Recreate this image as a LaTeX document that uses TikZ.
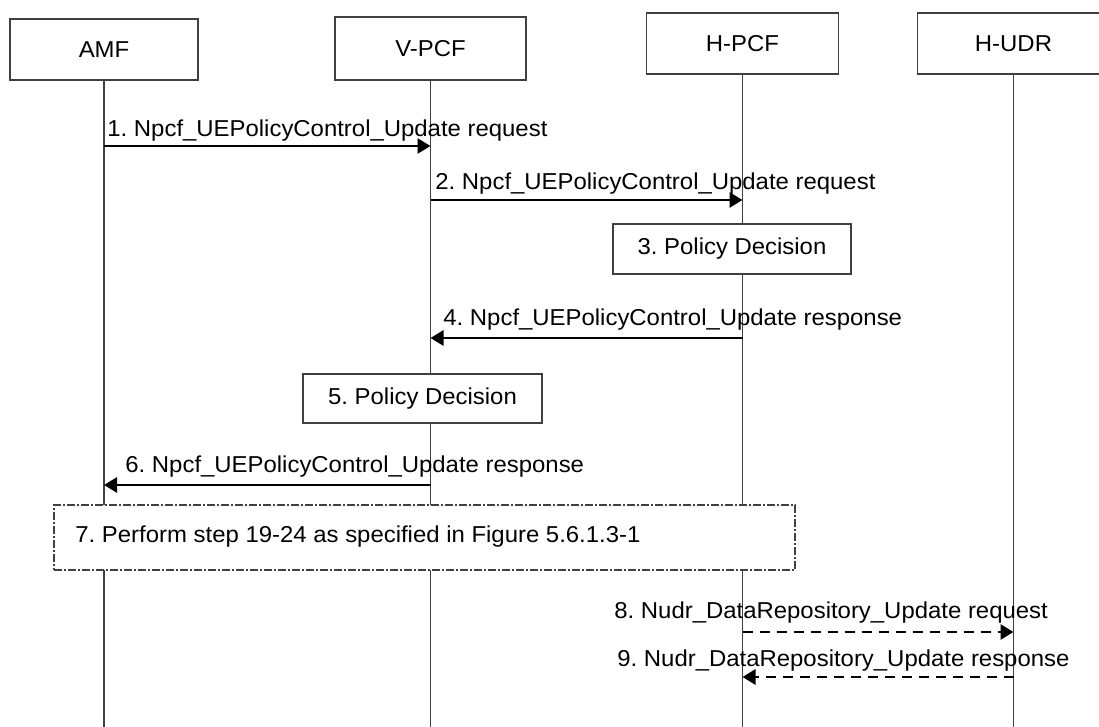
\documentclass[tikz,border=0pt]{standalone}
\usepackage{fontspec}
\setmainfont{Liberation Sans}[FakeStretch=1.04]
\usepackage{tikz}
\usetikzlibrary{positioning,calc}
\usetikzlibrary{arrows.meta}
\frenchspacing
\tikzset{
  ent/.style={draw=black!75,line width=0.6pt,fill=white,minimum height=30.5pt,inner sep=0pt},
  life/.style={draw=black!75,line width=0.6pt},
  call/.style={draw=black,line width=1.4pt,-{Triangle[length=6.5pt,width=7.5pt]}},
  dcall/.style={call,dash pattern=on 5pt off 3.5pt},
  act/.style={draw=black!75,line width=0.6pt,fill=white,inner sep=0pt},
  ref/.style={draw=black!75,line width=0.6pt,fill=white,
    dash pattern=on 4pt off 1pt on 1pt off 1pt},
  lbl/.style={anchor=base west,inner sep=0pt},
}

\begin{document}
\begin{tikzpicture}[x=0.5pt,y=-0.5pt,font=\fontsize{11.5pt}{13.5pt}\selectfont]
\useasboundingbox (0,0) rectangle (1099,727);
\clip (0,0) rectangle (1099,727);
\coordinate (bottom) at (0,727);
% entities
\node[ent,minimum width=94pt] (amf) at (104,49.5) {AMF};
\node[ent,minimum width=95.5pt,minimum height=31.5pt] (vpcf) at (430.5,48.5) {V-PCF};
\node[ent,minimum width=96pt] (hpcf) at (742.5,43.5) {H-PCF};
\node[ent,minimum width=96pt] (hudr) at (1013.5,43.5) {H-UDR};
% lifelines
\draw[life] (amf.south) -- (amf.south |- bottom);
\draw[life] (vpcf.south) -- (vpcf.south |- bottom);
\draw[life] (hpcf.south) -- (hpcf.south |- bottom);
\draw[life] (hudr.south) -- (hudr.south |- bottom);
% step 1
\coordinate (s1) at (amf |- 0,146);
\coordinate (e1) at (vpcf |- 0,146);
\draw[call] (s1) -- (e1);
\node[lbl] (l1) at (107,137) {1. Npcf\_UEPolicyControl\_Update request};
% step 2
\coordinate (s2) at (vpcf |- 0,200);
\coordinate (e2) at (hpcf |- 0,200);
\draw[call] (s2) -- (e2);
\node[lbl] (l2) at (435,190) {2. Npcf\_UEPolicyControl\_Update request};
% step 3
\node[act,minimum width=119pt,minimum height=25pt] (pd3) at (732,249) {3. Policy Decision};
% step 4
\coordinate (s4) at (hpcf |- 0,338);
\coordinate (e4) at (vpcf |- 0,338);
\draw[call] (s4) -- (e4);
\node[lbl] (l4) at (443,326) {4. Npcf\_UEPolicyControl\_Update response};
% step 5
\node[act,minimum width=119.5pt,minimum height=24.5pt] (pd5) at (422.5,398.5) {5. Policy Decision};
% step 6
\coordinate (s6) at (vpcf |- 0,485);
\coordinate (e6) at (amf |- 0,485);
\draw[call] (s6) -- (e6);
\node[lbl] (l6) at (125,473) {6. Npcf\_UEPolicyControl\_Update response};
% step 7
\node[ref,minimum width=370.5pt,minimum height=32.5pt] (ref7) at (424.5,537.5) {};
\node[lbl] (l7) at (75,542) {7. Perform step 19-24 as specified in Figure 5.6.1.3-1};
% steps 8 and 9
\coordinate (s8) at (hpcf |- 0,632);
\coordinate (e8) at (hudr |- 0,632);
\draw[dcall] (s8) -- (e8);
\node[lbl] (l8) at (614,618) {8. Nudr\_DataRepository\_Update request};
\coordinate (s9) at (hudr |- 0,677);
\coordinate (e9) at (hpcf |- 0,677);
\draw[dcall] (s9) -- (e9);
\node[lbl] (l9) at (617,666) {9. Nudr\_DataRepository\_Update response};
\end{tikzpicture}
\end{document}
